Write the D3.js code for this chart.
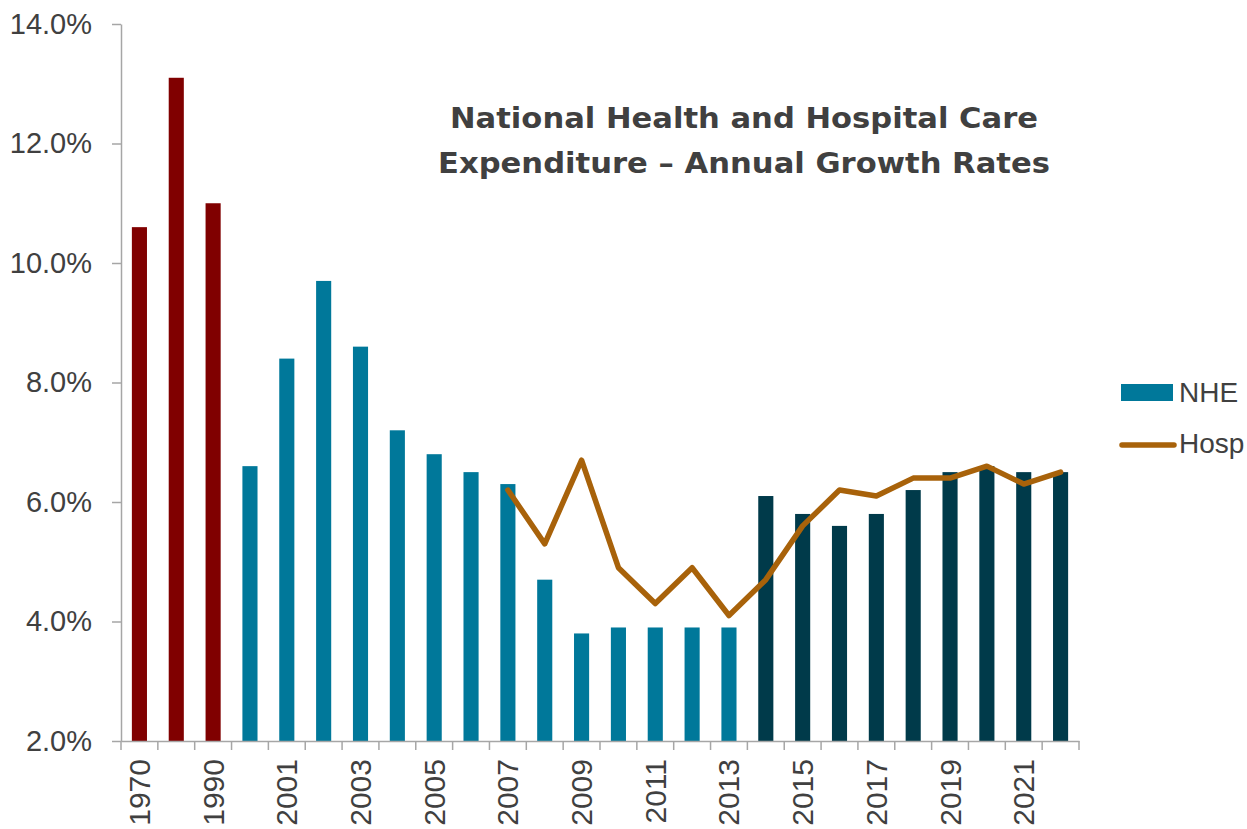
<!DOCTYPE html>
<html>
<head>
<meta charset="utf-8">
<script src="https://cdn.jsdelivr.net/npm/d3@7"></script>
<style>
  html, body { margin: 0; padding: 0; background: #fff; }
  svg { display: block; }
</style>
</head>
<body>
<div id="chart"></div>
<script>
const years = ['1970', '1980', '1990', '2000', '2001', '2002', '2003', '2004', '2005', '2006',
  '2007', '2008', '2009', '2010', '2011', '2012', '2013', '2014', '2015', '2016',
  '2017', '2018', '2019', '2020', '2021', '2022'];
const nheGrowth = [10.6, 13.1, 11.0, 6.6, 8.4, 9.7, 8.6, 7.2, 6.8, 6.5,
  6.3, 4.7, 3.8, 3.9, 3.9, 3.9, 3.9, 6.1, 5.8, 5.6,
  5.8, 6.2, 6.5, 6.6, 6.5, 6.5];
const hospGrowth = [null, null, null, null, null, null, null, null, null, null,
  6.2, 5.3, 6.7, 4.9, 4.3, 4.9, 4.1, 4.7, 5.6, 6.2,
  6.1, 6.4, 6.4, 6.6, 6.3, 6.5];
const eras = ['decade', 'decade', 'decade', 'history', 'history', 'history', 'history', 'history', 'history', 'history',
  'history', 'history', 'history', 'history', 'history', 'history', 'history', 'projected', 'projected', 'projected',
  'projected', 'projected', 'projected', 'projected', 'projected', 'projected'];
const yTicks = [2, 4, 6, 8, 10, 12, 14];
const titleLines = ['National Health and Hospital Care', 'Expenditure \u2013 Annual Growth Rates'];
const legendItems = ['NHE', 'Hosp'];

const WIDTH = 1247;
const HEIGHT = 829;
const margin = { top: 24, right: 168, bottom: 88, left: 121 };
const textColor = '#404040';
const axisColor = '#a6a6a6';
const eraColor = d3.scaleOrdinal()
  .domain(['decade', 'history', 'projected'])
  .range(['#800000', '#00789a', '#003a4a']);
const lineColor = '#a8620a';

const svg = d3.select('#chart').append('svg')
  .attr('width', WIDTH)
  .attr('height', HEIGHT);

const x = d3.scaleBand()
  .domain(years)
  .range([margin.left, WIDTH - margin.right])
  .paddingInner(0.59)
  .paddingOuter(0.295);

const y = d3.scaleLinear()
  .domain([2, 14])
  .range([HEIGHT - margin.bottom, margin.top]);

const centre = (year) => x(year) + x.bandwidth() / 2;

// bars
svg.append('g')
  .selectAll('rect')
  .data(years)
  .join('rect')
  .attr('x', (d) => x(d))
  .attr('y', (d, i) => y(nheGrowth[i]))
  .attr('width', x.bandwidth())
  .attr('height', (d, i) => y(2) - y(nheGrowth[i]))
  .attr('fill', (d, i) => eraColor(eras[i]));

// hospital line
const line = d3.line()
  .defined((d) => d.value != null)
  .x((d) => centre(d.year))
  .y((d) => y(d.value));

svg.append('path')
  .datum(years.map((year, i) => ({ year, value: hospGrowth[i] })))
  .attr('fill', 'none')
  .attr('stroke', lineColor)
  .attr('stroke-width', 5.5)
  .attr('stroke-linejoin', 'round')
  .attr('stroke-linecap', 'round')
  .attr('d', line);

// y axis
const yAxis = svg.append('g')
  .attr('transform', `translate(${margin.left},0)`)
  .call(d3.axisLeft(y)
    .tickValues(yTicks)
    .tickFormat((d) => `${d.toFixed(1)}%`)
    .tickSize(9)
    .tickPadding(20)
    .tickSizeOuter(0));

yAxis.selectAll('path, line').attr('stroke', axisColor).attr('stroke-width', 1.5);
yAxis.selectAll('text')
  .attr('fill', textColor)
  .style('font-family', '"Liberation Sans", Arial, sans-serif')
  .style('font-size', '29px');

// x axis with labels on every other year
const xAxis = svg.append('g')
  .attr('transform', `translate(0,${y(2)})`)
  .call(d3.axisBottom(x)
    .tickSize(0)
    .tickFormat((d, i) => (i % 2 === 0 ? d : ''))
    .tickSizeOuter(0));

xAxis.select('.domain').attr('stroke', axisColor).attr('stroke-width', 1.5);
xAxis.selectAll('text')
  .attr('fill', textColor)
  .attr('transform', 'rotate(-90)')
  .attr('x', -18)
  .attr('y', 0)
  .attr('dy', '0.35em')
  .attr('text-anchor', 'end')
  .style('font-family', '"Liberation Sans", Arial, sans-serif')
  .style('font-size', '30px');

// category boundary ticks
const boundaries = years.map((d) => centre(d) - x.step() / 2)
  .concat(centre(years[years.length - 1]) + x.step() / 2);

xAxis.append('g')
  .selectAll('line')
  .data(boundaries)
  .join('line')
  .attr('x1', (d) => d)
  .attr('x2', (d) => d)
  .attr('y1', 0)
  .attr('y2', 9)
  .attr('stroke', axisColor)
  .attr('stroke-width', 1.5);

// title
const titleX = 744;
const titleWidths = [588, 612];
svg.append('g')
  .selectAll('text')
  .data(titleLines)
  .join('text')
  .attr('x', titleX)
  .attr('y', (d, i) => 128 + i * 45)
  .attr('text-anchor', 'middle')
  .attr('textLength', (d, i) => titleWidths[i])
  .attr('lengthAdjust', 'spacingAndGlyphs')
  .attr('fill', textColor)
  .style('font-family', '"DejaVu Sans", Verdana, sans-serif')
  .style('font-weight', 'bold')
  .style('font-size', '29px')
  .text((d) => d);

// legend
const legend = svg.append('g')
  .attr('transform', 'translate(1121,392)');

legend.append('rect')
  .attr('x', 0)
  .attr('y', -8)
  .attr('width', 52)
  .attr('height', 17)
  .attr('fill', eraColor('history'));

legend.append('line')
  .attr('x1', 1)
  .attr('x2', 53)
  .attr('y1', 53)
  .attr('y2', 53)
  .attr('stroke', lineColor)
  .attr('stroke-width', 5.5)
  .attr('stroke-linecap', 'round');

legend.selectAll('text')
  .data(legendItems)
  .join('text')
  .attr('x', 58)
  .attr('y', (d, i) => i * 51)
  .attr('dy', '0.36em')
  .attr('fill', textColor)
  .style('font-family', '"Liberation Sans", Arial, sans-serif')
  .style('font-size', '28px')
  .text((d) => d);
</script>
</body>
</html>
